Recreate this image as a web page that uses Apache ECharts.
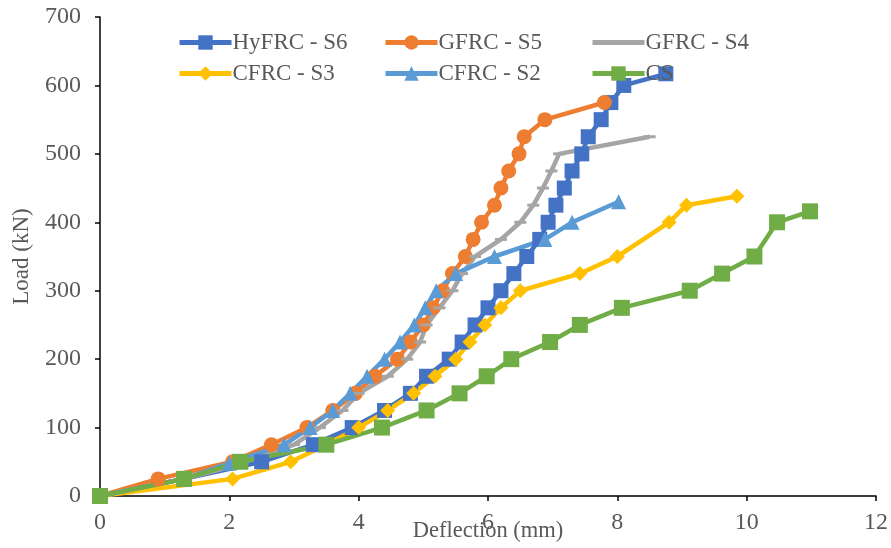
<!DOCTYPE html>
<html>
<head>
<meta charset="utf-8">
<script src="https://cdn.jsdelivr.net/npm/echarts@6/dist/echarts.min.js"></script>
<style>
  html, body { margin: 0; padding: 0; background: #fff; }
  #chart { width: 891px; height: 548px; }
</style>
</head>
<body>
<div id="chart"></div>
<script>
// [deflection (mm), load (kN)]
var hyfrcS6 = [[0,0],[1.3,25],[2.5,50],[3.3,75],[3.9,100],[4.4,125],[4.8,150],[5.05,175],[5.4,200],[5.6,225],[5.8,250],[6.0,275],[6.2,300],[6.4,325],[6.6,350],[6.8,375],[6.93,400],[7.05,425],[7.18,450],[7.3,475],[7.45,500],[7.55,525],[7.75,550],[7.9,575],[8.1,600],[8.75,617]];
var gfrcS5 = [[0,0],[0.9,25],[2.05,50],[2.65,75],[3.2,100],[3.6,125],[3.95,150],[4.25,175],[4.6,200],[4.8,225],[5.0,250],[5.15,275],[5.3,300],[5.45,325],[5.65,350],[5.77,375],[5.9,400],[6.1,425],[6.2,450],[6.32,475],[6.48,500],[6.56,525],[6.88,550],[7.8,575]];
var gfrcS4 = [[0,0],[1.3,25],[2.1,45],[3.0,75],[3.4,100],[3.75,125],[4.0,150],[4.45,175],[4.75,200],[4.95,225],[5.05,250],[5.25,275],[5.45,300],[5.6,325],[5.8,350],[6.2,375],[6.5,400],[6.7,425],[6.85,450],[6.98,475],[7.1,500],[8.5,525]];
var cfrcS3 = [[0,0],[2.05,25],[2.95,50],[3.5,75],[4.0,100],[4.45,125],[4.85,150],[5.18,175],[5.5,200],[5.72,225],[5.95,250],[6.2,275],[6.5,300],[7.42,325],[8.0,350],[8.8,400],[9.07,425],[9.85,438]];
var cfrcS2 = [[0,0],[1.3,25],[2.0,48],[2.85,75],[3.25,100],[3.6,125],[3.87,150],[4.13,175],[4.4,200],[4.64,225],[4.86,250],[5.03,275],[5.2,300],[5.5,325],[6.1,350],[6.88,375],[7.3,400],[8.02,430]];
var cs = [[0,0],[1.3,25],[2.17,50],[3.5,75],[4.36,100],[5.05,125],[5.56,150],[5.98,175],[6.36,200],[6.96,225],[7.42,250],[8.07,275],[9.12,300],[9.62,325],[10.12,350],[10.47,400],[10.98,416]];

var xTicks = { min: 0, max: 12, step: 2 };
var yTicks = { min: 0, max: 700, step: 100 };

var serif = 'Liberation Serif';
var textGrey = '#595959';

function makeSeries(name, data, color, symbol, size) {
  return {
    name: name,
    type: 'line',
    data: data,
    symbol: symbol,
    symbolSize: size,
    showSymbol: true,
    lineStyle: { color: color, width: 4.5 },
    itemStyle: { color: color },
    animation: false
  };
}

var dash = 'path://M0,0 L10,0 L10,2 L0,2 Z';

var chart = echarts.init(document.getElementById('chart'));
chart.setOption({
  backgroundColor: '#fff',
  animation: false,
  grid: { left: 100, right: 15, top: 17, bottom: 52, outerBoundsMode: 'none' },
  legend: [
    { data: ['HyFRC - S6', 'CFRC - S3'], left: 172 },
    { data: ['GFRC - S5', 'CFRC - S2'], left: 378 },
    { data: [{ name: 'GFRC - S4', itemStyle: { opacity: 0 } }, 'CS'], left: 585 }
  ].map(function (l) {
    return Object.assign(l, {
      top: 26, orient: 'vertical', itemGap: 8,
      itemWidth: 52, itemHeight: 18,
      lineStyle: { width: 5 },
      textStyle: { fontFamily: serif, fontSize: 23, color: textGrey, padding: [0, 0, 0, -4] }
    });
  }),
  xAxis: {
    type: 'value',
    min: xTicks.min, max: xTicks.max, interval: xTicks.step,
    name: 'Deflection (mm)',
    nameLocation: 'middle', nameGap: 24, nameMoveOverlap: false,
    nameTextStyle: { fontFamily: serif, fontSize: 22.5, color: textGrey },
    axisLine: { show: true, lineStyle: { color: '#000', width: 1.5 } },
    axisTick: { show: true, inside: false, length: 5, lineStyle: { color: '#000', width: 1.5 } },
    axisLabel: { fontFamily: serif, fontSize: 24, color: textGrey, margin: 15 },
    splitLine: { show: false }
  },
  yAxis: {
    type: 'value',
    min: yTicks.min, max: yTicks.max, interval: yTicks.step,
    name: 'Load (kN)',
    nameLocation: 'middle', nameGap: 67, nameRotate: 90, nameMoveOverlap: false,
    nameTextStyle: { fontFamily: serif, fontSize: 23, color: textGrey },
    axisLine: { show: true, lineStyle: { color: '#000', width: 1.5 } },
    axisTick: { show: true, inside: false, length: 5, lineStyle: { color: '#000', width: 1.5 } },
    axisLabel: { fontFamily: serif, fontSize: 24, color: textGrey, margin: 19 },
    splitLine: { show: false }
  },
  series: [
    makeSeries('HyFRC - S6', hyfrcS6, '#4472C4', 'rect', 15),
    makeSeries('GFRC - S5', gfrcS5, '#ED7D31', 'circle', 15),
    makeSeries('GFRC - S4', gfrcS4, '#A5A5A5', dash, [12, 3]),
    makeSeries('CFRC - S3', cfrcS3, '#FFC000', 'diamond', 15),
    makeSeries('CFRC - S2', cfrcS2, '#5B9BD5', 'triangle', 15),
    makeSeries('CS', cs, '#70AD47', 'rect', 16)
  ]
});
</script>
</body>
</html>
